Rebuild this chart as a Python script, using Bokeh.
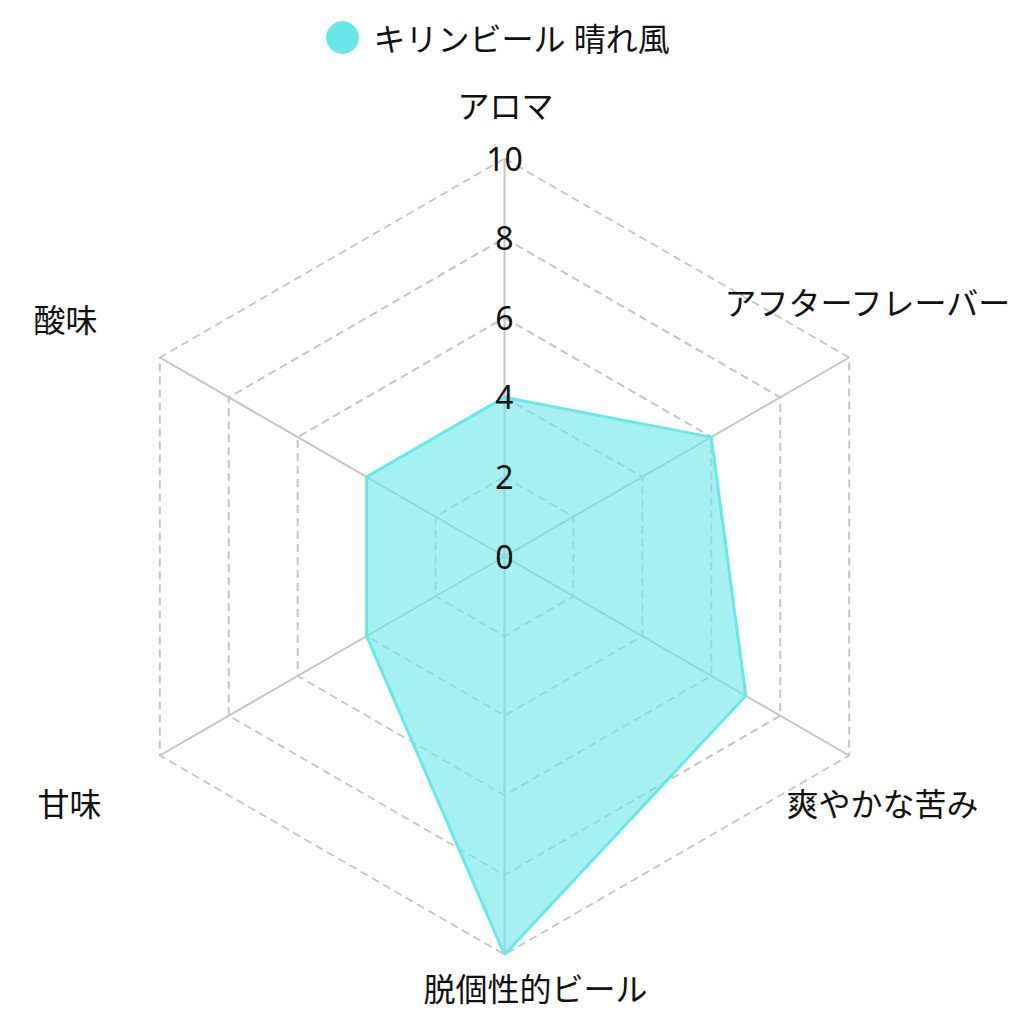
import numpy as np
from bokeh.plotting import figure
from bokeh.models import Range1d, ColumnDataSource
from bokeh.core.properties import value
from bokeh.embed import file_html
from bokeh.resources import INLINE

# ---- data ----
categories = ["アロマ", "アフターフレーバー", "爽やかな苦み", "脱個性的ビール", "甘味", "酸味"]
series_name = "キリンビール 晴れ風"
series_values = [4, 6, 7, 10, 4, 4]
tick_values = [0, 2, 4, 6, 8, 10]
tick_labels = ["0", "2", "4", "6", "8", "10"]

# ---- layout / style ----
PX = 39.8          # pixels per unit
CX, CY = 504, 556  # centre in screenshot pixels
W = 1016
FONT = value("Noto Sans, Noto Sans CJK JP")
LINE_C = "#68e6ea"
GRID_C = "#c4c4c4"

def px_x(X):
    return (X - CX) / PX

def px_y(Y):
    return (CY - Y) / PX

p = figure(width=W, height=W, output_backend="svg", toolbar_location=None,
           x_range=Range1d(px_x(0), px_x(W)), y_range=Range1d(px_y(W), px_y(0)),
           min_border=0)
p.axis.visible = False
p.grid.visible = False
p.outline_line_color = None
p.background_fill_color = "white"

n = len(categories)
angles = np.pi / 2 - np.arange(n) * 2 * np.pi / n

# rings (dashed)
for t in tick_values[1:]:
    xs = list(t * np.cos(angles)) + [t * np.cos(angles[0])]
    ys = list(t * np.sin(angles)) + [t * np.sin(angles[0])]
    p.line(xs, ys, line_color=GRID_C, line_width=2, line_dash="8 5")

# spokes (solid)
rmax = tick_values[-1]
p.segment(x0=[0] * n, y0=[0] * n, x1=list(rmax * np.cos(angles)), y1=list(rmax * np.sin(angles)),
          line_color=GRID_C, line_width=2)

# data polygon
vals = np.array(series_values, dtype=float)
dx = list(vals * np.cos(angles))
dy = list(vals * np.sin(angles))
p.patch(dx, dy, fill_color=LINE_C, fill_alpha=0.6, line_color=LINE_C, line_width=3)

# tick labels along top spoke
p.text(x=[0] * len(tick_values), y=tick_values, text=tick_labels,
       text_font=FONT, text_font_size="32px", text_color="#111111",
       text_align="center", text_baseline="middle")

# point labels
lab_x = [px_x(505), px_x(724), px_x(786), px_x(535), px_x(101), px_x(97)]
lab_y = [px_y(105), px_y(302), px_y(803), px_y(988), px_y(803), px_y(319)]
aligns = ["center", "left", "left", "center", "right", "right"]
src = ColumnDataSource(dict(x=lab_x, y=lab_y, text=categories, align=aligns))
p.text(x="x", y="y", text="text", source=src, text_align="align",
       text_font=FONT, text_font_size="32px", text_color="#111111", text_baseline="middle")

# legend
p.scatter(x=[px_x(342)], y=[px_y(37)], marker="circle", size=32,
          fill_color=LINE_C, line_color=LINE_C)
p.text(x=[px_x(373)], y=[px_y(38)], text=[series_name], text_font=FONT,
       text_font_size="32px", text_color="#111111", text_align="left", text_baseline="middle")

open("out.html", "w").write(file_html(p, INLINE))
